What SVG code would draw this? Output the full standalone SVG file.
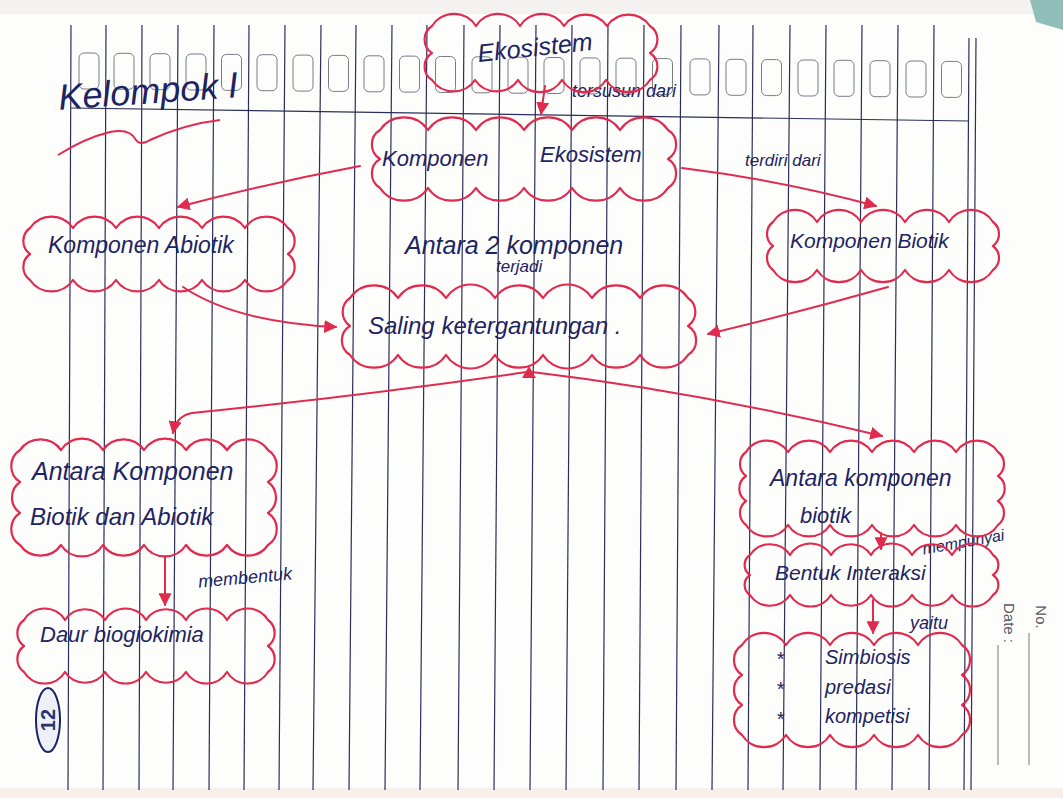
<svg xmlns="http://www.w3.org/2000/svg" width="1063" height="798" viewBox="0 0 1063 798">
  <defs>
    <style>
      .rule { stroke: #2b2f58; stroke-width: 1.2; fill: none; }
      .box { stroke: #7a7c86; stroke-width: 1; fill: none; }
      .cloud { stroke: #e02a4e; stroke-width: 2.2; fill: none; stroke-linejoin: round; }
      .link { stroke: #e02a4e; stroke-width: 2; fill: none; stroke-linecap: round; }
      .hand { font-family: "Liberation Sans", "DejaVu Sans", sans-serif; font-style: italic; fill: #1d2462; }
      .print { font-family: "Liberation Sans", sans-serif; fill: #555a66; font-size: 15px; }
    </style>
    <marker id="ah" viewBox="0 0 10 10" refX="9" refY="5" markerWidth="13" markerHeight="13" markerUnits="userSpaceOnUse" orient="auto">
      <path d="M0,0 L10,5 L0,10 z" fill="#e02a4e"/>
    </marker>
  </defs>

  <!-- paper -->
  <rect x="0" y="0" width="1063" height="798" fill="#fdfdfc"/>
  <rect x="0" y="0" width="1063" height="14" fill="#f4f2f0"/>
  <rect x="0" y="788" width="1063" height="10" fill="#f8eeea"/>
  <path d="M1030,0 L1063,0 L1063,30 L1036,22 Z" fill="#8fbfb8"/>

  <!-- ruled lines -->
  <g id="ruling">
    <line class="rule" x1="71" y1="25" x2="68" y2="790"/>
    <line class="rule" x1="106" y1="25" x2="103" y2="790"/>
    <line class="rule" x1="142" y1="25" x2="139" y2="790"/>
    <line class="rule" x1="178" y1="25" x2="173" y2="790"/>
    <line class="rule" x1="214" y1="25" x2="209" y2="790"/>
    <line class="rule" x1="249" y1="25" x2="244" y2="790"/>
    <line class="rule" x1="285" y1="25" x2="279" y2="790"/>
    <line class="rule" x1="321" y1="25" x2="313" y2="790"/>
    <line class="rule" x1="356" y1="25" x2="349" y2="790"/>
    <line class="rule" x1="392" y1="25" x2="385" y2="790"/>
    <line class="rule" x1="427" y1="25" x2="420" y2="790"/>
    <line class="rule" x1="464" y1="25" x2="458" y2="790"/>
    <line class="rule" x1="500" y1="25" x2="494" y2="790"/>
    <line class="rule" x1="536" y1="25" x2="530" y2="790"/>
    <line class="rule" x1="572" y1="25" x2="566" y2="790"/>
    <line class="rule" x1="608" y1="25" x2="603" y2="790"/>
    <line class="rule" x1="644" y1="25" x2="639" y2="790"/>
    <line class="rule" x1="681" y1="25" x2="676" y2="790"/>
    <line class="rule" x1="719" y1="25" x2="712" y2="790"/>
    <line class="rule" x1="753" y1="25" x2="748" y2="790"/>
    <line class="rule" x1="790" y1="25" x2="783" y2="790"/>
    <line class="rule" x1="826" y1="25" x2="820" y2="790"/>
    <line class="rule" x1="862" y1="25" x2="856" y2="790"/>
    <line class="rule" x1="898" y1="25" x2="892" y2="790"/>
    <line class="rule" x1="934" y1="25" x2="929" y2="790"/>
    <line class="rule" x1="969" y1="38" x2="964" y2="790"/>
    <line class="rule" x1="976" y1="38" x2="971" y2="790"/>
    <line class="rule" x1="71" y1="108" x2="969" y2="121" stroke="#555a70"/>
    <line x1="998" y1="645" x2="998" y2="765" stroke="#777" stroke-width="1"/>
    <line x1="1029" y1="633" x2="1029" y2="765" stroke="#777" stroke-width="1"/>
  </g>

  <!-- header boxes -->
  <g id="header-boxes">
    <rect class="box" x="79" y="53" width="20" height="36" rx="5"/>
    <rect class="box" x="114" y="53.3" width="20" height="36" rx="5"/>
    <rect class="box" x="150" y="53.7" width="20" height="36" rx="5"/>
    <rect class="box" x="186" y="54" width="20" height="36" rx="5"/>
    <rect class="box" x="221.5" y="54.4" width="20" height="36" rx="5"/>
    <rect class="box" x="257" y="54.7" width="20" height="36" rx="5"/>
    <rect class="box" x="293" y="55.1" width="20" height="36" rx="5"/>
    <rect class="box" x="328.5" y="55.4" width="20" height="36" rx="5"/>
    <rect class="box" x="364" y="55.8" width="20" height="36" rx="5"/>
    <rect class="box" x="399.5" y="56.1" width="20" height="36" rx="5"/>
    <rect class="box" x="435.5" y="56.5" width="20" height="36" rx="5"/>
    <rect class="box" x="472" y="56.8" width="20" height="36" rx="5"/>
    <rect class="box" x="508" y="57.2" width="20" height="36" rx="5"/>
    <rect class="box" x="544" y="57.5" width="20" height="36" rx="5"/>
    <rect class="box" x="580" y="57.9" width="20" height="36" rx="5"/>
    <rect class="box" x="616" y="58.2" width="20" height="36" rx="5"/>
    <rect class="box" x="652.5" y="58.6" width="20" height="36" rx="5"/>
    <rect class="box" x="690" y="58.9" width="20" height="36" rx="5"/>
    <rect class="box" x="726" y="59.3" width="20" height="36" rx="5"/>
    <rect class="box" x="761.5" y="59.6" width="20" height="36" rx="5"/>
    <rect class="box" x="798" y="60" width="20" height="36" rx="5"/>
    <rect class="box" x="834" y="60.3" width="20" height="36" rx="5"/>
    <rect class="box" x="870" y="60.7" width="20" height="36" rx="5"/>
    <rect class="box" x="906" y="61" width="20" height="36" rx="5"/>
    <rect class="box" x="941.5" y="61.4" width="20" height="36" rx="5"/>
  </g>

  <!-- title -->
  <g id="title">
    <text class="hand" x="58" y="104" font-size="36" transform="rotate(-4 140 90)">Kelompok I</text>
    <path d="M58,155 Q85,138 110,132 Q130,128 136,140 Q140,146 150,140 Q185,124 220,120" stroke="#e02a4e" stroke-width="2" fill="none"/>
  </g>

  <!-- connectors -->
  <g id="connectors">
    <path class="link" d="M545,86 L541,114" marker-end="url(#ah)"/>
    <path class="link" d="M360,166 Q265,184 178,207" marker-end="url(#ah)"/>
    <path class="link" d="M682,168 Q780,180 876,206" marker-end="url(#ah)"/>
    <path class="link" d="M183,287 Q235,322 336,327" marker-end="url(#ah)"/>
    <path class="link" d="M888,287 Q800,312 708,334" marker-end="url(#ah)"/>
    <path class="link" d="M527,372 Q360,396 192,413 Q176,416 173,433" marker-end="url(#ah)"/>
    <path class="link" d="M532,372 Q700,392 882,436" marker-end="url(#ah)"/>
    <path d="M529,366 L522,378 L536,378 Z" fill="#e02a4e"/>
    <path class="link" d="M165,557 L165,605" marker-end="url(#ah)"/>
    <path class="link" d="M881,533 L881,549" marker-end="url(#ah)"/>
    <path class="link" d="M873,600 L873,633" marker-end="url(#ah)"/>
    <text class="hand" x="572" y="97" font-size="18">tersusun dari</text>
    <text class="hand" x="745" y="166" font-size="17">terdiri dari</text>
    <text class="hand" x="405" y="254" font-size="25">Antara 2 komponen</text>
    <text class="hand" x="496" y="272" font-size="17">terjadi</text>
    <text class="hand" x="198" y="584" font-size="18" transform="rotate(-5 240 578)">membentuk</text>
    <text class="hand" x="922" y="548" font-size="16" transform="rotate(-10 960 542)">mempunyai</text>
    <text class="hand" x="910" y="629" font-size="18">yaitu</text>
  </g>

  <!-- nodes -->
  <g id="node-ekosistem">
    <path class="cloud" d="M432,26 a26,26 0 0 1 44,0 a26,26 0 0 1 44,0 a26,26 0 0 1 44,0 a26,26 0 0 1 43,0 a26,26 0 0 1 43,0 a16,16 0 0 1 0,27 a16,16 0 0 1 0,27 a26,26 0 0 1 -44,0 a26,26 0 0 1 -44,0 a26,26 0 0 1 -44,0 a26,26 0 0 1 -43,0 a26,26 0 0 1 -43,0 a16,16 0 0 1 0,-27 a16,16 0 0 1 0,-27 Z"/>
    <text class="hand" x="535" y="56" font-size="25" text-anchor="middle" transform="rotate(-6 535 48)">Ekosistem</text>
  </g>

  <g id="node-komponen-ekosistem">
    <path class="cloud" d="M380,130 a29,29 0 0 1 48,0 a29,29 0 0 1 48,0 a29,29 0 0 1 48,0 a29,29 0 0 1 48,0 a29,29 0 0 1 48,0 a29,29 0 0 1 48,0 a17,17 0 0 1 0,29 a17,17 0 0 1 0,29 a29,29 0 0 1 -48,0 a29,29 0 0 1 -48,0 a29,29 0 0 1 -48,0 a29,29 0 0 1 -48,0 a29,29 0 0 1 -48,0 a29,29 0 0 1 -48,0 a17,17 0 0 1 0,-29 a17,17 0 0 1 0,-29 Z"/>
    <text class="hand" font-size="22"><tspan x="382" y="166">Komponen</tspan><tspan x="540" y="162">Ekosistem</tspan></text>
  </g>

  <g id="node-abiotik">
    <path class="cloud" d="M30,228 a26,26 0 0 1 43,0 a26,26 0 0 1 43,0 a26,26 0 0 1 43,0 a26,26 0 0 1 43,0 a26,26 0 0 1 43,0 a26,26 0 0 1 43,0 a16,16 0 0 1 0,26 a16,16 0 0 1 0,26 a26,26 0 0 1 -43,0 a26,26 0 0 1 -43,0 a26,26 0 0 1 -43,0 a26,26 0 0 1 -43,0 a26,26 0 0 1 -43,0 a26,26 0 0 1 -43,0 a16,16 0 0 1 0,-26 a16,16 0 0 1 0,-26 Z"/>
    <text class="hand" x="48" y="253" font-size="23">Komponen Abiotik</text>
  </g>

  <g id="node-biotik">
    <path class="cloud" d="M773,222 a26,26 0 0 1 44,0 a26,26 0 0 1 44,0 a26,26 0 0 1 44,0 a26,26 0 0 1 44,0 a26,26 0 0 1 44,0 a15,15 0 0 1 0,24 a15,15 0 0 1 0,24 a26,26 0 0 1 -44,0 a26,26 0 0 1 -44,0 a26,26 0 0 1 -44,0 a26,26 0 0 1 -44,0 a26,26 0 0 1 -44,0 a15,15 0 0 1 0,-24 a15,15 0 0 1 0,-24 Z"/>
    <text class="hand" x="790" y="248" font-size="21">Komponen Biotik</text>
  </g>

  <g id="node-saling-ketergantungan">
    <path class="cloud" d="M350,298 a29,29 0 0 1 48,0 a29,29 0 0 1 48,0 a29,29 0 0 1 49,0 a29,29 0 0 1 48,0 a29,29 0 0 1 49,0 a29,29 0 0 1 48,0 a29,29 0 0 1 48,0 a17,17 0 0 1 0,28 a17,17 0 0 1 0,29 a29,29 0 0 1 -48,0 a29,29 0 0 1 -48,0 a29,29 0 0 1 -49,0 a29,29 0 0 1 -48,0 a29,29 0 0 1 -49,0 a29,29 0 0 1 -48,0 a29,29 0 0 1 -48,0 a17,17 0 0 1 0,-29 a17,17 0 0 1 0,-28 Z"/>
    <text class="hand" x="368" y="334" font-size="24">Saling ketergantungan .</text>
  </g>

  <g id="node-biotik-abiotik">
    <path class="cloud" d="M20,450 a25,25 0 0 1 41,0 a25,25 0 0 1 42,0 a25,25 0 0 1 41,0 a25,25 0 0 1 42,0 a25,25 0 0 1 41,0 a25,25 0 0 1 41,0 a19,19 0 0 1 0,32 a19,19 0 0 1 0,31 a19,19 0 0 1 0,32 a25,25 0 0 1 -41,0 a25,25 0 0 1 -41,0 a25,25 0 0 1 -42,0 a25,25 0 0 1 -41,0 a25,25 0 0 1 -42,0 a25,25 0 0 1 -41,0 a19,19 0 0 1 0,-32 a19,19 0 0 1 0,-31 a19,19 0 0 1 0,-32 Z"/>
    <text class="hand" x="32" y="480" font-size="25">Antara Komponen</text>
    <text class="hand" x="30" y="525" font-size="24">Biotik dan Abiotik</text>
  </g>

  <g id="node-antar-biotik">
    <path class="cloud" d="M746,452 a25,25 0 0 1 42,0 a25,25 0 0 1 42,0 a25,25 0 0 1 42,0 a25,25 0 0 1 42,0 a25,25 0 0 1 42,0 a25,25 0 0 1 42,0 a15,15 0 0 1 0,24 a15,15 0 0 1 0,25 a15,15 0 0 1 0,24 a25,25 0 0 1 -42,0 a25,25 0 0 1 -42,0 a25,25 0 0 1 -42,0 a25,25 0 0 1 -42,0 a25,25 0 0 1 -42,0 a25,25 0 0 1 -42,0 a15,15 0 0 1 0,-24 a15,15 0 0 1 0,-25 a15,15 0 0 1 0,-24 Z"/>
    <text class="hand" x="770" y="486" font-size="23">Antara komponen</text>
    <text class="hand" x="800" y="523" font-size="22">biotik</text>
  </g>

  <g id="node-bentuk-interaksi">
    <path class="cloud" d="M750,555 a24,24 0 0 1 40,0 a24,24 0 0 1 41,0 a24,24 0 0 1 40,0 a24,24 0 0 1 41,0 a24,24 0 0 1 40,0 a24,24 0 0 1 41,0 a12,12 0 0 1 0,20 a12,12 0 0 1 0,20 a24,24 0 0 1 -41,0 a24,24 0 0 1 -40,0 a24,24 0 0 1 -41,0 a24,24 0 0 1 -40,0 a24,24 0 0 1 -41,0 a24,24 0 0 1 -40,0 a12,12 0 0 1 0,-20 a12,12 0 0 1 0,-20 Z"/>
    <text class="hand" x="775" y="580" font-size="21">Bentuk Interaksi</text>
  </g>

  <g id="node-daur">
    <path class="cloud" d="M24,620 a24,24 0 0 1 41,0 a24,24 0 0 1 40,0 a24,24 0 0 1 41,0 a24,24 0 0 1 40,0 a24,24 0 0 1 41,0 a24,24 0 0 1 41,0 a16,16 0 0 1 0,26 a16,16 0 0 1 0,26 a24,24 0 0 1 -41,0 a24,24 0 0 1 -41,0 a24,24 0 0 1 -40,0 a24,24 0 0 1 -41,0 a24,24 0 0 1 -40,0 a24,24 0 0 1 -41,0 a16,16 0 0 1 0,-26 a16,16 0 0 1 0,-26 Z"/>
    <text class="hand" x="40" y="642" font-size="22">Daur biogiokimia</text>
  </g>

  <g id="node-interaksi-list">
    <path class="cloud" d="M742,645 a26,26 0 0 1 44,0 a26,26 0 0 1 44,0 a26,26 0 0 1 44,0 a26,26 0 0 1 44,0 a26,26 0 0 1 44,0 a18,18 0 0 1 0,30 a18,18 0 0 1 0,30 a18,18 0 0 1 0,30 a26,26 0 0 1 -44,0 a26,26 0 0 1 -44,0 a26,26 0 0 1 -44,0 a26,26 0 0 1 -44,0 a26,26 0 0 1 -44,0 a18,18 0 0 1 0,-30 a18,18 0 0 1 0,-30 a18,18 0 0 1 0,-30 Z"/>
    <text class="hand" font-size="20">
      <tspan x="776" y="666">*</tspan><tspan x="825" y="664">Simbiosis</tspan>
      <tspan x="776" y="696">*</tspan><tspan x="825" y="694">predasi</tspan>
      <tspan x="776" y="726">*</tspan><tspan x="825" y="723">kompetisi</tspan>
    </text>
  </g>

  <!-- page number badge and date field -->
  <g id="page-badge">
    <ellipse cx="48" cy="720" rx="12" ry="32" fill="#eef0f7" stroke="#1d2462" stroke-width="2"/>
    <text x="48" y="727" font-family="Liberation Sans, sans-serif" font-weight="bold" font-size="20" fill="#2a3270" text-anchor="middle" transform="rotate(-90 48 720)">12</text>
  </g>
  <g id="date-field">
    <text class="print" x="1004" y="623" transform="rotate(90 1004 623)" text-anchor="middle">Date :</text>
    <text class="print" x="1036" y="617" transform="rotate(90 1036 617)" text-anchor="middle">No.</text>
  </g>
</svg>
